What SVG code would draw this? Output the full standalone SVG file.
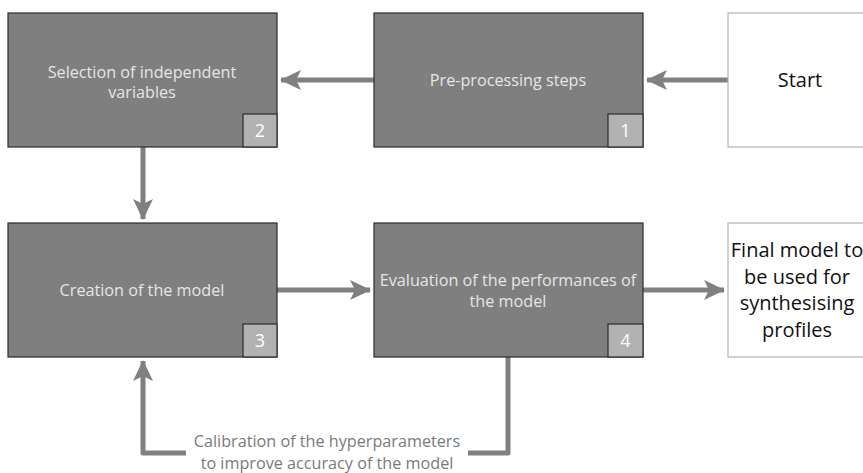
<svg xmlns="http://www.w3.org/2000/svg" width="863" height="473" viewBox="0 0 863 473">
<style>
.box{fill:#7f7f80;stroke:#2b2b2b;stroke-width:1.2}
.wbox{fill:#ffffff;stroke:#b3b3b3;stroke-width:1.2}
.badge{fill:#b2b2b2;stroke:#2b2b2b;stroke-width:1.2}
.t{font-family:"Open Sans","Noto Sans",sans-serif;font-size:16.2px;fill:#e6e6e6;text-anchor:middle}
.n{font-family:"Open Sans","Noto Sans",sans-serif;font-size:18px;fill:#ffffff;text-anchor:middle}
.k{font-family:"Open Sans","Noto Sans",sans-serif;font-size:20px;fill:#111111;text-anchor:middle}
.lbl{font-family:"Open Sans","Noto Sans",sans-serif;font-size:16.2px;fill:#7a7a7a;text-anchor:middle}
.c{fill:none;stroke:#808080;stroke-width:5;stroke-linejoin:round}
</style>
<defs>
<marker id="ah" markerUnits="userSpaceOnUse" markerWidth="22" markerHeight="22" viewBox="0 0 22 22" refX="20" refY="11" orient="auto">
<path d="M0,1 L21,11 L0,21 L5,11 Z" fill="#808080"/>
</marker>
</defs>
<g id="connectors">
<line class="c" x1="728" y1="80" x2="647" y2="80" marker-end="url(#ah)"/>
<line class="c" x1="374" y1="80" x2="281" y2="80" marker-end="url(#ah)"/>
<line class="c" x1="143" y1="147" x2="143" y2="219" marker-end="url(#ah)"/>
<line class="c" x1="277" y1="290" x2="370" y2="290" marker-end="url(#ah)"/>
<line class="c" x1="643" y1="290" x2="724" y2="290" marker-end="url(#ah)"/>
<path class="c" d="M508,357 L508,453 L143,453 L143,361" marker-end="url(#ah)"/>
</g>
<g id="n2">
<rect class="box" x="8" y="13" width="269" height="134"/>
<text class="t" x="142" y="78">Selection of independent</text>
<text class="t" x="142" y="98">variables</text>
<rect class="badge" x="243" y="114" width="34" height="33"/>
<text class="n" x="260" y="137">2</text>
</g>
<g id="n1">
<rect class="box" x="374" y="13" width="269" height="134"/>
<text class="t" x="508" y="86">Pre-processing steps</text>
<rect class="badge" x="608" y="114" width="35" height="33"/>
<text class="n" x="625.5" y="137">1</text>
</g>
<g id="start">
<rect class="wbox" x="728" y="13" width="144" height="134"/>
<text class="k" x="800" y="87">Start</text>
</g>
<g id="n3">
<rect class="box" x="8" y="223" width="269" height="134"/>
<text class="t" x="142" y="296">Creation of the model</text>
<rect class="badge" x="243" y="324" width="34" height="33"/>
<text class="n" x="260" y="347">3</text>
</g>
<g id="n4">
<rect class="box" x="374" y="223" width="269" height="134"/>
<text class="t" x="508" y="286">Evaluation of the performances of</text>
<text class="t" x="508" y="307">the model</text>
<rect class="badge" x="608" y="324" width="35" height="33"/>
<text class="n" x="625.5" y="347">4</text>
</g>
<g id="final">
<rect class="wbox" x="728" y="223" width="144" height="134"/>
<text class="k" x="797" y="257">Final model to</text>
<text class="k" x="797" y="284">be used for</text>
<text class="k" x="797" y="310">synthesising</text>
<text class="k" x="797" y="337">profiles</text>
</g>
<g id="label">
<rect x="186" y="435" width="282" height="38" fill="#ffffff"/>
<text class="lbl" x="327" y="447">Calibration of the hyperparameters</text>
<text class="lbl" x="327" y="469">to improve accuracy of the model</text>
</g>
</svg>
